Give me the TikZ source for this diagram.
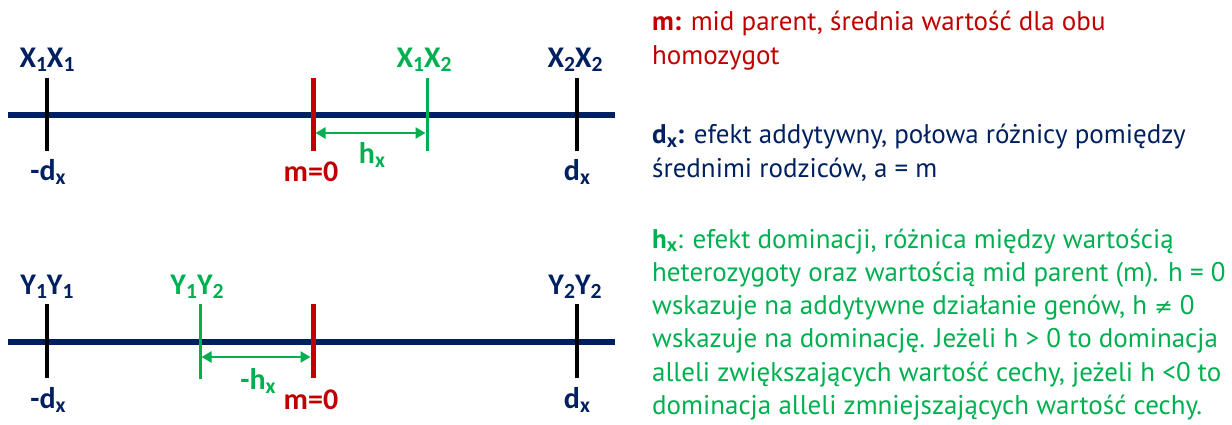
\documentclass[tikz,border=0pt]{standalone}
\usepackage{fontspec}
\setmainfont{Carlito}
\newfontfamily\bodyfont{PT Sans}
\newfontfamily\symfont{DejaVu Sans}
\usetikzlibrary{arrows.meta}
\definecolor{navy}{HTML}{002060}
\definecolor{myred}{HTML}{C00000}
\definecolor{mygreen}{HTML}{00B050}
\newcommand{\sbs}[1]{\raisebox{-0.12em}{\fontsize{0.72em}{1em}\selectfont #1}}
\begin{document}
\begin{tikzpicture}[x=1pt,y=-1pt,
  axis/.style={draw=navy,line width=6pt},
  tickk/.style={draw=black,line width=3.5pt},
  tickr/.style={draw=myred,line width=5pt},
  tickg/.style={draw=mygreen,line width=3pt},
  lbl/.style={font=\fontsize{30}{34}\selectfont\bfseries,inner sep=0pt},
  harrow/.style={draw=mygreen,line width=2.5pt,{Triangle[length=10pt,width=11pt]}-{Triangle[length=10pt,width=11pt]}},
  txt/.style={anchor=base west,inner sep=0pt,font=\bodyfont\fontsize{27}{31}\selectfont}
]
\useasboundingbox (0,0) rectangle (1232,425);
% ---------- top axis
\coordinate (A1) at (8,115);
\coordinate (A2) at (615,115);
\draw[axis] (A1) -- (A2);
\coordinate (T1a) at (47,78);  \coordinate (T1b) at (47,151);
\coordinate (T2a) at (313,78); \coordinate (T2b) at (313,151);
\coordinate (T3a) at (427,78); \coordinate (T3b) at (427,151);
\coordinate (T4a) at (577,78); \coordinate (T4b) at (577,151);
\draw[tickk] (T1a) -- (T1b);
\draw[tickr] (T2a) -- (T2b);
\draw[tickg] (T3a) -- (T3b);
\draw[tickk] (T4a) -- (T4b);
\coordinate (H1a) at (315.5,133); \coordinate (H1b) at (425.5,133);
\draw[harrow] (H1a) -- (H1b);
\node[lbl,text=navy] (X11) at (47,60) {X\sbs{1}X\sbs{1}};
\node[lbl,text=mygreen] (X12) at (424,60) {X\sbs{1}X\sbs{2}};
\node[lbl,text=navy] (X22) at (575,60) {X\sbs{2}X\sbs{2}};
\node[lbl,text=navy] (D1) at (48,172) {-d\sbs{x}};
\node[lbl,text=myred] (M1) at (311,172) {m=0};
\node[lbl,text=mygreen] (HX1) at (372,155) {h\sbs{x}};
\node[lbl,text=navy] (D2) at (577,172) {d\sbs{x}};
% ---------- bottom axis
\coordinate (B1) at (8,342);
\coordinate (B2) at (615,342);
\draw[axis] (B1) -- (B2);
\coordinate (U1a) at (47,304);  \coordinate (U1b) at (47,378);
\coordinate (U2a) at (200,304); \coordinate (U2b) at (200,379);
\coordinate (U3a) at (313,304); \coordinate (U3b) at (313,378);
\coordinate (U4a) at (577,304); \coordinate (U4b) at (577,378);
\draw[tickk] (U1a) -- (U1b);
\draw[tickg] (U2a) -- (U2b);
\draw[tickr] (U3a) -- (U3b);
\draw[tickk] (U4a) -- (U4b);
\coordinate (H2a) at (201.5,357); \coordinate (H2b) at (310.5,357);
\draw[harrow] (H2a) -- (H2b);
\node[lbl,text=navy] (Y11) at (47,287) {Y\sbs{1}Y\sbs{1}};
\node[lbl,text=mygreen] (Y12) at (197,287) {Y\sbs{1}Y\sbs{2}};
\node[lbl,text=navy] (Y22) at (575,287) {Y\sbs{2}Y\sbs{2}};
\node[lbl,text=navy] (D3) at (48,400) {-d\sbs{x}};
\node[lbl,text=myred] (M2) at (311,400) {m=0};
\node[lbl,text=mygreen] (HX2) at (258,381) {-h\sbs{x}};
\node[lbl,text=navy] (D4) at (577,400) {d\sbs{x}};
% ---------- right text
\node[txt,text=myred] (R1) at (652,31) {\textbf{m:} mid parent, średnia wartość dla obu};
\node[txt,text=myred] (R2) at (652,65) {homozygot};
\node[txt,text=navy] (R3) at (652,144) {\textbf{d\sbs{x}:} efekt addytywny, połowa różnicy pomiędzy};
\node[txt,text=navy] (R4) at (652,178) {średnimi rodziców, a = m};
\node[txt,text=mygreen] (R5) at (652,248) {\textbf{h\sbs{x}}: efekt dominacji, różnica między wartością};
\node[txt,text=mygreen] (R6) at (652,281) {heterozygoty oraz wartością mid parent (m). h = 0};
\node[txt,text=mygreen] (R7) at (652,314) {wskazuje na addytywne działanie genów, h {\symfont\fontsize{22}{28}\selectfont ≠} 0};
\node[txt,text=mygreen] (R8) at (652,347) {wskazuje na dominację. Jeżeli h > 0 to dominacja};
\node[txt,text=mygreen] (R9) at (652,381) {alleli zwiększających wartość cechy, jeżeli h <0 to};
\node[txt,text=mygreen] (R10) at (652,414) {dominacja alleli zmniejszających wartość cechy.};
\end{tikzpicture}
\end{document}
